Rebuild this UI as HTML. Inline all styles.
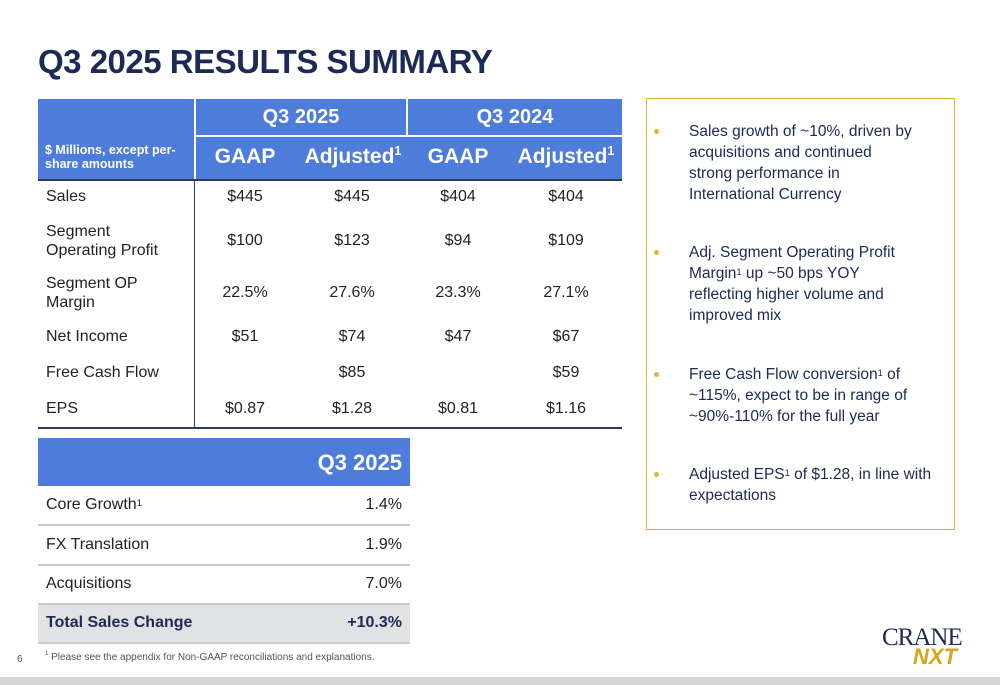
<!DOCTYPE html>
<html><head><meta charset="utf-8">
<style>
*{margin:0;padding:0;box-sizing:border-box}
body{width:1000px;height:685px;background:#fff;position:relative;overflow:hidden;font-family:"Liberation Sans",sans-serif;color:#1c2a55}
.a{position:absolute}
.h{background:#4d7cdb;color:#fff;font-weight:bold}
.c{text-align:center;width:100px;margin-left:-50px;font-size:16px;color:#222}
.lbl{font-size:16px;color:#222;left:46px;line-height:19px}
.line{background:#c8ccd2;height:2px;left:38px;width:372px}
.bul{left:689px;font-size:15.5px;line-height:21px;color:#1c2a55;width:260px;white-space:nowrap}
.dot{left:654px;width:5px;height:5px;border-radius:50%;background:#e0b43a}
sup{font-size:60%;vertical-align:top;position:relative;top:-1px}
</style></head><body>
<div class="a" style="left:38px;top:43px;font-size:33px;font-weight:bold;color:#1c2a55;letter-spacing:-0.5px">Q3 2025 RESULTS SUMMARY</div>

<div>
<div class="a h" style="left:38px;top:99px;width:584px;height:81px"></div>
<div class="a" style="left:194px;top:99px;width:2px;height:81px;background:#fff"></div>
<div class="a" style="left:406px;top:99px;width:2px;height:37px;background:#fff"></div>
<div class="a" style="left:196px;top:135px;width:426px;height:2px;background:#fff"></div>
<div class="a" style="left:196px;top:106px;width:210px;text-align:center;color:#fff;font-weight:bold;font-size:20px">Q3 2025</div>
<div class="a" style="left:408px;top:106px;width:214px;text-align:center;color:#fff;font-weight:bold;font-size:20px">Q3 2024</div>
<div class="a" style="left:45px;top:143px;color:#fff;font-weight:bold;font-size:12.5px;line-height:14px;width:145px">$ Millions, except per-share amounts</div>
<div class="a" style="left:195px;top:145px;width:100px;text-align:center;color:#fff;font-weight:bold;font-size:21px">GAAP</div>
<div class="a" style="left:297px;top:145px;width:112px;text-align:center;color:#fff;font-weight:bold;font-size:21px">Adjusted<sup>1</sup></div>
<div class="a" style="left:408px;top:145px;width:100px;text-align:center;color:#fff;font-weight:bold;font-size:21px">GAAP</div>
<div class="a" style="left:510px;top:145px;width:112px;text-align:center;color:#fff;font-weight:bold;font-size:21px">Adjusted<sup>1</sup></div>
<div class="a" style="left:38px;top:179px;width:584px;height:2px;background:#2b3a5e"></div>
<div class="a" style="left:194px;top:181px;width:1px;height:247px;background:#2b3a5e"></div>
<div class="a" style="left:38px;top:427px;width:584px;height:2px;background:#2b3a5e"></div>
<div id="rows"></div>
</div>

<div>
<div class="a h" style="left:38px;top:438px;width:372px;height:48px"></div>
<div class="a" style="left:200px;top:450px;width:202px;text-align:right;color:#fff;font-weight:bold;font-size:22px">Q3 2025</div>
<div class="a lbl" style="top:495px">Core Growth<sup>1</sup></div><div class="a" style="left:300px;width:102px;text-align:right;top:496px;font-size:16px;color:#222">1.4%</div>
<div class="a line" style="top:524px"></div>
<div class="a lbl" style="top:535px">FX Translation</div><div class="a" style="left:300px;width:102px;text-align:right;top:536px;font-size:16px;color:#222">1.9%</div>
<div class="a line" style="top:564px"></div>
<div class="a lbl" style="top:574px">Acquisitions</div><div class="a" style="left:300px;width:102px;text-align:right;top:575px;font-size:16px;color:#222">7.0%</div>
<div class="a line" style="top:603px"></div>
<div class="a" style="left:38px;top:605px;width:372px;height:37px;background:#e1e2e4"></div>
<div class="a line" style="top:642px"></div>
<div class="a" style="left:46px;top:614px;font-size:16px;font-weight:bold;color:#1c2a55">Total Sales Change</div>
<div class="a" style="left:300px;width:102px;text-align:right;top:614px;font-size:16px;font-weight:bold;color:#1c2a55">+10.3%</div>
</div>

<div class="a" style="left:646px;top:98px;width:309px;height:432px;border:1.5px solid #e0b43a"></div>
<div class="a dot" style="top:129px"></div>
<div class="a bul" style="top:121px">Sales growth of ~10%, driven by<br>acquisitions and continued<br>strong performance in<br>International Currency</div>
<div class="a dot" style="top:250px"></div>
<div class="a bul" style="top:242px">Adj. Segment Operating Profit<br>Margin<sup>1</sup> up ~50 bps YOY<br>reflecting higher volume and<br>improved mix</div>
<div class="a dot" style="top:372px"></div>
<div class="a bul" style="top:364px">Free Cash Flow conversion<sup>1</sup> of<br>~115%, expect to be in range of<br>~90%-110% for the full year</div>
<div class="a dot" style="top:472px"></div>
<div class="a bul" style="top:464px">Adjusted EPS<sup>1</sup> of $1.28, in line with<br>expectations</div>

<div class="a" style="left:17px;top:654px;font-size:10px;color:#555">6</div>
<div class="a" style="left:45px;top:652px;font-size:10px;color:#555"><sup>1</sup> Please see the appendix for Non-GAAP reconciliations and explanations.</div>
<div class="a" style="left:882px;top:624px;font-family:'Liberation Serif',serif;font-size:25px;color:#1c2a55;letter-spacing:-1px">CRANE</div>
<div class="a" style="left:913px;top:644px;font-size:22px;font-weight:bold;font-style:italic;color:#d4a514">NXT</div>
<div class="a" style="left:0;top:677px;width:1000px;height:8px;background:#d2d4d6"></div>

<script>
const rowLabels=["Sales","Segment<br>Operating Profit","Segment OP<br>Margin","Net Income","Free Cash Flow","EPS"];
const gaap2025=["$445","$100","22.5%","$51","","$0.87"];
const adj2025=["$445","$123","27.6%","$74","$85","$1.28"];
const gaap2024=["$404","$94","23.3%","$47","","$0.81"];
const adj2024=["$404","$109","27.1%","$67","$59","$1.16"];
const rowY=[196,240,292,336,372,408];
const colX=[245,352,458,566];
const cont=document.getElementById('rows');
rowLabels.forEach((l,i)=>{
  const d=document.createElement('div');
  d.className='a lbl';
  d.style.top=(rowY[i]-(l.includes('<br>')?18:9))+'px';
  d.innerHTML=l;
  
  
  cont.appendChild(d);
  [gaap2025,adj2025,gaap2024,adj2024].forEach((arr,j)=>{
    const v=document.createElement('div');
    v.className='a c';
    v.style.left=colX[j]+'px';
    v.style.top=(rowY[i]-8)+'px';
    v.textContent=arr[i];
    
    
    cont.appendChild(v);
  });
});
</script>
</body></html>
